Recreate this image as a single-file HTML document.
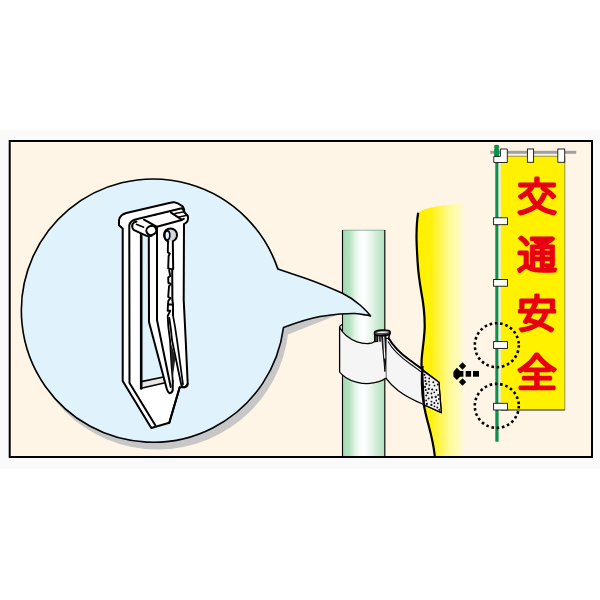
<!DOCTYPE html>
<html lang="ja">
<head>
<meta charset="utf-8">
<title>交通安全</title>
<style>
html,body{margin:0;padding:0;background:#ffffff;}
body{width:600px;height:600px;overflow:hidden;font-family:"Liberation Sans","Noto Sans CJK JP",sans-serif;}
svg{display:block;}
</style>
</head>
<body>
<svg width="600" height="600" viewBox="0 0 600 600">
<defs>
  <linearGradient id="gPole" x1="0" y1="0" x2="1" y2="0">
    <stop offset="0" stop-color="#a0d9af"/>
    <stop offset="0.07" stop-color="#a6dcb4"/>
    <stop offset="0.19" stop-color="#b9e4c5"/>
    <stop offset="0.30" stop-color="#e0f3e5"/>
    <stop offset="0.42" stop-color="#f9fdfa"/>
    <stop offset="0.51" stop-color="#ffffff"/>
    <stop offset="0.65" stop-color="#eaf7ed"/>
    <stop offset="0.77" stop-color="#d3eedb"/>
    <stop offset="0.88" stop-color="#c1e7ca"/>
    <stop offset="1" stop-color="#b4e1bf"/>
  </linearGradient>
  <linearGradient id="gFlag" gradientUnits="userSpaceOnUse" x1="416" y1="0" x2="465" y2="0">
    <stop offset="0" stop-color="#fff000"/>
    <stop offset="0.30" stop-color="#fff10a"/>
    <stop offset="0.70" stop-color="#fffa9c"/>
    <stop offset="0.85" stop-color="#fffbb8"/>
    <stop offset="1" stop-color="#fff5e6"/>
  </linearGradient>
  <pattern id="dots" patternUnits="userSpaceOnUse" width="7" height="9">
    <rect width="7" height="9" fill="#f4f4f4"/>
    <circle cx="1.2" cy="1.5" r="0.8" fill="#111"/>
    <circle cx="4.8" cy="3.2" r="0.8" fill="#111"/>
    <circle cx="2.4" cy="5.6" r="0.8" fill="#111"/>
    <circle cx="5.8" cy="7.6" r="0.8" fill="#111"/>
  </pattern>
</defs>

<!-- page background -->
<rect x="0" y="0" width="600" height="600" fill="#ffffff"/>
<rect x="0" y="130" width="600" height="339" fill="#fafafa"/>

<!-- frame -->
<rect x="9.7" y="141" width="582.3" height="316" fill="#fff5e6" stroke="#000" stroke-width="2"/>

<!-- big yellow flag (cloth) -->
<g id="cloth">
  <path d="M418.2,212.7 C417.2,218 416.6,226 416.5,236 C416.4,242 417,252 417.6,262 C418.2,272 419.4,281 421.3,292 C423.6,304 424.8,316 424.7,327 C424.4,339 422.2,350 421.6,360 C421.2,378 422.2,394 423.6,403 C424.6,410 426.6,418 428.8,426 C431.2,435 433.6,445 434.8,456 L470,456 L470,203 L462,203.3 C455,204 448,204.8 440,206 C430,207.5 422,209.5 418.2,212.7 Z" fill="url(#gFlag)"/>
  <path d="M418.2,212.7 C417.2,218 416.6,226 416.5,236 C416.4,242 417,252 417.6,262 C418.2,272 419.4,281 421.3,292 C423.6,304 424.8,316 424.7,327 C424.4,339 422.2,350 421.6,360 C421.2,378 422.2,394 423.6,403 C424.6,410 426.6,418 428.8,426 C431.2,435 433.6,445 434.8,456" fill="none" stroke="#000" stroke-width="2.2"/>
</g>

<!-- bubble shadow -->
<g fill="#c7c7c7">
  <circle cx="157.5" cy="317.9" r="131.6"/>
  <path d="M283.5,327.4 L288,334.4 L336,315.6 L320,310 Z"/>
</g>

<!-- pole -->
<g id="pole">
  <rect x="342" y="230" width="43.3" height="226" fill="url(#gPole)"/>
  <path d="M342,230.2 L385.3,230.2" stroke="#6f9a7c" stroke-width="0.7" fill="none"/>
  <path d="M342.5,230 L342.5,456 M384.8,230 L384.8,456" stroke="#000" stroke-width="1.1" fill="none"/>
</g>

<!-- band + strip -->
<g id="band" stroke="#000" stroke-width="1.3" stroke-linejoin="round" stroke-linecap="round">
  <!-- strip going to the right -->
  <path d="M385.6,339 L388.6,338 C393,346 399,352.5 410,360.3 C418,366 430,375.5 438.9,382.2 L441.3,412.7 L422.7,404 C414,400.5 404,395 398,390.5 C393,386.5 389,382.5 385.8,378.2 Z" fill="#f5f5f5"/>
  <path d="M422.6,370.4 L438.9,382.2 L441.3,412.7 L424.2,404.8 Z" fill="#f2f2f2"/>
  <g fill="#111" stroke="none"><circle cx="429.0" cy="381.7" r="0.9"/><circle cx="433.3" cy="382.3" r="1.0"/><circle cx="432.2" cy="389.5" r="1.1"/><circle cx="425.9" cy="389.9" r="1.0"/><circle cx="425.4" cy="377.7" r="0.9"/><circle cx="431.5" cy="401.6" r="0.9"/><circle cx="434.5" cy="406.3" r="0.9"/><circle cx="437.8" cy="384.5" r="1.0"/><circle cx="436.5" cy="390.0" r="0.9"/><circle cx="427.7" cy="392.9" r="1.1"/><circle cx="425.4" cy="381.0" r="1.1"/><circle cx="434.3" cy="392.3" r="0.9"/><circle cx="436.3" cy="400.5" r="0.9"/><circle cx="435.7" cy="396.9" r="1.1"/><circle cx="437.3" cy="407.5" r="0.9"/><circle cx="431.9" cy="397.4" r="1.1"/><circle cx="426.3" cy="395.6" r="1.0"/><circle cx="428.8" cy="388.9" r="1.1"/><circle cx="425.0" cy="386.9" r="1.1"/><circle cx="437.9" cy="403.4" r="0.9"/><circle cx="426.1" cy="400.4" r="0.9"/><circle cx="429.4" cy="385.1" r="0.9"/><circle cx="429.2" cy="378.5" r="0.9"/><circle cx="438.1" cy="395.0" r="0.9"/><circle cx="431.4" cy="404.9" r="1.1"/><circle cx="434.5" cy="385.6" r="0.9"/><circle cx="431.4" cy="393.5" r="0.9"/><circle cx="426.9" cy="403.9" r="1.1"/><circle cx="438.9" cy="399.0" r="0.9"/><circle cx="428.6" cy="398.4" r="1.0"/><circle cx="434.3" cy="402.9" r="1.0"/><circle cx="426.3" cy="383.9" r="1.1"/><circle cx="439.4" cy="409.8" r="1.0"/><circle cx="424.4" cy="374.8" r="1.1"/></g>
  <path d="M388.6,338 C393,346 399,352.5 410,360.3 C414,363.2 418.5,366.4 422.8,369.6" fill="none" stroke="#000" stroke-width="1.8"/>
  <path d="M388.2,341.8 C393,350.4 399.5,356.4 410,363.7 C414,366.6 418.5,369.8 422.6,373" fill="none" stroke="#111" stroke-width="1.1"/>
  <!-- band around pole -->
  <path d="M339.6,327.3 C343,334 350,339.3 357,341.8 C363,343.6 371,343.6 374.6,343 L376,341 L376,334.5 L385.8,337 L385.8,378.2 C382,380.8 377,382.6 370,383.4 C362,384.2 352,381.7 346,377.7 C343,375.7 341,374 339.6,372 Z" fill="#f5f5f5" stroke="none"/>
  <path d="M374.6,341.4 C372.5,343 371,343.4 369,343.5 C365,343.8 361,343.2 357,341.8 C350,339.3 343,334 339.6,327.3 L339.6,372 C341,374 343,375.7 346,377.7 C352,381.7 362,384.2 370,383.4 C377,382.6 382,380.8 385.8,378.2" fill="none"/>
  <path d="M339.6,327.3 C339.8,325.8 340.6,325 342,324.6" fill="none"/>
</g>

<!-- tie / pin -->
<g id="tie" stroke="#000" stroke-linecap="round" stroke-linejoin="round">
  <path d="M374.6,333 L374.8,341.6 L377.6,341.4 L377.6,335.6 Z" fill="#444" stroke-width="1.3"/>
  <path d="M374.5,332.4 C374.8,331 377,330.4 382,330.1 C386.4,330 389.8,330.5 390.2,331.8 L390,333.6 C388.6,335 384.4,335.7 381,335.8 C378,335.9 375.4,335.4 374.6,334.4 Z" fill="#4c4c4c" stroke-width="1.5"/>
  <path d="M376.6,332.5 C379,331.5 386,331.2 388.6,332 C386,333.1 379.4,333.5 376.6,332.5 Z" fill="#f4f4f4" stroke="none"/>
  <path d="M389.8,333.8 C389.2,335.4 388.6,337.4 388.6,339.2" fill="none" stroke-width="1.5"/>
  <path d="M379.9,335.8 L380,341.2" fill="none" stroke-width="1.4"/>
  <path d="M381.6,335.6 L384.9,371.6 L385.7,360 L386,335.6 Z" fill="#1c1c1c" stroke-width="0.9"/>
  <path d="M383.7,337 L384.8,358" fill="none" stroke="#f4f4f4" stroke-width="1.2"/>
</g>
<!-- flag edge over strip -->
<path d="M422.6,366 C421.3,378 422.2,394 423.6,403 L424.3,407" fill="none" stroke="#000" stroke-width="2.2"/>

<!-- speech bubble -->
<g id="bubble">
  <path d="M277.8,269 L306,278.4 C318,282.6 330,287.6 342,293 C350,297 356,301.6 360,305 C365,309.5 368.5,313 370.5,316 C368.4,315.3 366.6,315 365,314.9 C361,314 358,313.6 355,313.5 C350,313.4 345,313.6 340,314 C333,314.6 326,315.6 320,316.5 C310,318.2 297,322.5 283.5,327.4 A131.6,131.6 0 1 1 277.8,269 Z" fill="#e0f3fc" stroke="#000" stroke-width="1.6" stroke-linejoin="round"/>
</g>

<!-- clip inside bubble -->
<g id="clip" stroke="#000" stroke-width="2" stroke-linejoin="round" stroke-linecap="round" fill="none">
  <!-- silhouette -->
  <path d="M122.7,228.5 L122.7,381 L151.3,428 L169.3,422.7 L179.7,387.3 L184.3,387.3 C186.3,386.9 187.5,385.6 187.7,383.7 L185.7,340 L183.7,300 L184,224 L185.7,223 C187.3,221.8 188,220.4 188,219 C188.1,217.6 188,216.6 187.7,215.7 L184.3,212.3 L184,209 C183.3,207 182.6,206.3 181.7,205.7 C179,203.8 176.6,202.7 174.3,202.3 C172.6,202.2 171.3,202.4 170.3,202.7 L126.3,213 C124.3,213.6 122.8,214.4 121.7,215.3 C120,216.8 119.2,218.4 119,220 L119,225.3 Z" fill="#ffffff"/>
  <!-- see-through gap -->
  <path d="M141.2,236 L141.2,381.6 L163.3,377 L149,322 L149,237.5 Z" fill="#e0f3fc" stroke="none"/>
  <!-- crossbar face -->
  <path d="M141.2,381.6 L163.6,377 L165.2,382.8 L141.2,388.2 Z" fill="#e9e6e4" stroke-width="1.6"/>
  <!-- inner edge of left bar -->
  <path d="M155,214.7 L136.3,219.3 C134,220 132.6,220.6 131.7,221.3 C130.2,222.6 129.5,223.9 129.3,225.3 L129.5,383 L155.3,425.3"/>
  <path d="M155,214.7 L181.7,208.3 L183.4,210"/>
  <!-- thick inner line -->
  <path d="M141.2,234.7 L141.2,388.4" stroke-width="2.6"/>
  <!-- left prong -->
  <path d="M148.8,237.3 L149,322 L167,389.7 C167.8,391.8 168.6,393 169.7,393.2 C171.4,393 172.4,391.8 172.7,390.3 L172.8,381 L171.5,365 L170,340 L168.3,326.7 L157,320 Z" fill="#ffffff" stroke="none"/>
  <path d="M148.8,237.3 L149,322 L167,389.7 C167.8,391.8 168.6,393 169.7,393.2 C171.4,393 172.4,391.8 172.7,390.3 L172.8,381"/>
  <path d="M157,226.8 L157,320 L170.7,387"/>
  <!-- P / B lines (gap between prongs) -->
  <path d="M170.3,310.7 L167.7,316 L168.3,326.7 L170,340 L171.5,365 L172.8,381" stroke-width="1.8"/>
  <path d="M169.3,318 L171,330 L172,340 L181.3,385 C182.4,386.6 183.3,387.2 184.3,387.3 C186.3,386.9 187.5,385.6 187.7,383.7" stroke-width="1.8"/>
  <path d="M170.4,342 L171.6,365 L172.6,379 L175.5,357 Z" fill="#222" stroke="none"/>
  <!-- C: slot right line continues down -->
  <path d="M173,315.3 L175,326.7 L177,340 L183,384.3" stroke-width="1.7"/>
  <!-- line from right prong tip to bottom -->
  <path d="M179.7,387.3 L169.3,422.7" />
  <!-- block top face -->
  <path d="M144,219.7 L157,226.8 L181.7,220 L183.8,218.8"/>
  <path d="M171,212.7 L181.7,219.6"/>
  <path d="M175,213.6 L184.5,211.8" stroke-width="1.5"/>
  <path d="M179,217 L187.4,215.2" stroke-width="1.5"/>
  <!-- pin (cylinder) -->
  <path d="M136.5,221.6 C134.6,222 133.3,222.8 132.6,224 C131.8,225.6 132.2,227.8 133.6,229.8 L146,235.6 C147.8,236.4 149.8,236.4 151.6,235.8" fill="#ffffff"/>
  <ellipse cx="151.3" cy="230.4" rx="5" ry="4.5" transform="rotate(-25 151.3 230.4)" fill="#ffffff"/>
  <path d="M136.3,224.3 L143.7,227.3" stroke-width="1.5"/>
  <!-- keyhole + slot -->
  <path d="M168.2,241.5 C165.4,240 164,237.8 164,235 C164,231.2 166.9,228.4 170.5,228.4 C174.1,228.4 177,231.2 177,235 C177,237.8 175.4,240 172.8,241.3 L173.2,268 L172.4,272 L172.6,300 L173,304.7 L173,315.3 L170.3,310.7 L168,311 L168.2,241.5 Z" fill="#ffffff" stroke="none"/>
  <path d="M168.6,240.6 C170.2,238.6 170.6,232.2 168.9,229.4 C172.6,227.6 177,230.6 177,235 C177,237.8 175.4,240 172.8,241.3 Z" fill="#d4d8db" stroke="none"/>
  <path d="M168.2,241.5 C165.4,240 164,237.8 164,235 C164,231.2 166.9,228.4 170.5,228.4 C174.1,228.4 177,231.2 177,235 C177,237.8 175.4,240 172.8,241.3 L173.2,268.4 L172.2,270.6 L172.4,300 L173,304.7 L173,315.3" stroke-width="2"/>
  <path d="M168,241.5 L167.8,252.2 L169.8,253.6 L168.6,256 L168.2,268.4 L172.6,269.4 M169.2,270.4 L170.2,276 L168.2,277.6 L168.4,283 L170.8,284 L169,286.4 L168.2,297 L170.6,298.2 L168.4,300.6 L168,304.2 L172.8,304.8 M168,304.2 L167.7,310.7 L170.3,310.7" stroke-width="1.9"/>
  <ellipse cx="167.3" cy="235.3" rx="2.5" ry="4.4" fill="#e0f3fc" stroke-width="1.6"/>
</g>

<!-- small banner -->
<g id="banner">
  <rect x="490.3" y="150.8" width="85.9" height="3" fill="#a0a0a6"/>
  <rect x="495.3" y="152" width="3.3" height="289.7" fill="#0a9150"/>
  <path d="M494.1,146 Q494.1,144.7 496.6,144.7 Q499.1,144.7 499.1,146 L499.1,147.4 L498.4,148.2 L499.1,149 L499.1,156.4 L494.1,156.4 L494.1,149 L494.8,148.2 L494.1,147.4 Z" fill="#0a9150"/>
  <rect x="498.6" y="156.2" width="2.2" height="253.8" fill="#efeedc"/>
  <rect x="500.8" y="156.2" width="64" height="253.8" fill="#fff100"/>
  <path d="M500.8,156.2 L564.8,156.2 L564.8,410" fill="none" stroke="#6a6a40" stroke-width="0.7"/>
  <path d="M500.8,410 L564.8,410" stroke="#222" stroke-width="1"/>
  <g fill="#ffffff" stroke="#111" stroke-width="0.9">
    <path d="M500.4,149 L507.3,149 L507.3,162.5 L493.8,162.5 L493.8,156.4 L500.4,156.4 Z"/>
    <rect x="527.4" y="149" width="6.2" height="13.3"/>
    <rect x="557.8" y="149" width="6.9" height="13.3"/>
    <rect x="493.6" y="217.8" width="13.9" height="6.9"/>
    <rect x="493.6" y="279.5" width="13.9" height="6.7"/>
    <rect x="493.6" y="341.6" width="13.9" height="6.8"/>
    <rect x="493.6" y="403.3" width="13.9" height="6.7"/>
  </g>
  <g font-family="'Liberation Sans','Noto Sans CJK JP',sans-serif" font-weight="300" font-size="38" fill="#e60012" stroke="#e60012" stroke-width="3.2" stroke-linejoin="round" stroke-linecap="round" text-anchor="middle" transform="translate(537.1 0) scale(1.04 1) translate(-537.3 0)">
    <text x="537.3" y="210.2">交</text>
    <text x="537.3" y="268">通</text>
    <text x="537.3" y="327.2">安</text>
    <text x="537.3" y="386.2">全</text>
  </g>
</g>

<!-- dotted circles -->
<g fill="none" stroke="#000" stroke-width="2.6" stroke-dasharray="2.6 2.7165">
  <circle cx="496.8" cy="345.2" r="22"/>
  <circle cx="496.8" cy="405.9" r="22"/>
</g>

<!-- dashed arrow -->
<g fill="#000">
  <rect x="473" y="371" width="6" height="5.7"/>
  <rect x="465.7" y="371" width="5.4" height="5.7"/>
  <path d="M453.4,371.8 L456.8,367.8 L460.2,371 L463.4,371 L463.4,376.7 L460.2,376.7 L456.8,380 L453.4,376.4 Z"/>
  <path d="M462.5,362.2 L466.2,366 L462.5,369.8 L458.8,366 Z"/>
  <path d="M462.5,378.2 L466.2,382 L462.5,385.8 L458.8,382 Z"/>
</g>
</svg>
</body>
</html>
